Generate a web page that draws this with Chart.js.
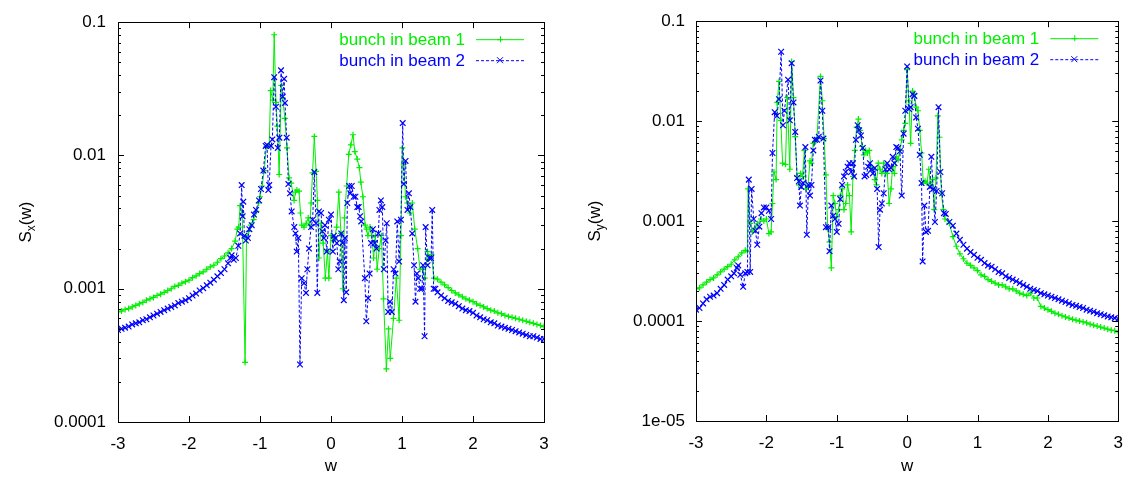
<!DOCTYPE html>
<html>
<head>
<meta charset="utf-8">
<script src="https://cdn.jsdelivr.net/npm/chart.js@4.4.1/dist/chart.umd.min.js"></script>
<style>
  body { margin: 0; background: #fff; overflow: hidden; }
  .panel { position: absolute; top: 0; height: 477px; }
</style>
</head>
<body>
<div class="panel" style="left:0;width:565px"><canvas id="sxChart" width="565" height="477"></canvas></div>
<div class="panel" style="left:565px;width:570px"><canvas id="syChart" width="570" height="477"></canvas></div>
<script>
// series labels and axis ticks
const seriesLabels = ["bunch in beam 1", "bunch in beam 2"];
const wTicks = [-3, -2, -1, 0, 1, 2, 3];
const sxDecades = [0.0001, 0.001, 0.01, 0.1];
const sxTickLabels = ["0.0001", "0.001", "0.01", "0.1"];
const syDecades = [0.00001, 0.0001, 0.001, 0.01, 0.1];
const syTickLabels = ["1e-05", "0.0001", "0.001", "0.01", "0.1"];

// S_x(w), beam 1  [w, S]
const sxBeam1 = [
  [-3.00,0.00067],[-2.95,0.00068],[-2.90,0.00070],[-2.85,0.00071],[-2.80,0.00073],[-2.75,0.00075],[-2.70,0.00077],[-2.65,0.00079],
  [-2.60,0.00082],[-2.55,0.00084],[-2.50,0.00086],[-2.45,0.00089],[-2.40,0.00091],[-2.35,0.00094],[-2.30,0.00097],[-2.25,0.00100],
  [-2.20,0.00104],[-2.15,0.00106],[-2.10,0.00110],[-2.05,0.00113],[-2.00,0.00116],[-1.95,0.00121],[-1.90,0.00125],[-1.85,0.00130],
  [-1.80,0.00134],[-1.75,0.00140],[-1.70,0.00146],[-1.65,0.00150],[-1.60,0.00158],[-1.55,0.00168],[-1.50,0.00176],[-1.45,0.00186],
  [-1.40,0.00200],[-1.35,0.00228],[-1.32,0.0028],[-1.30,0.0029],[-1.28,0.0042],[-1.25,0.0036],[-1.21,0.00028],[-1.19,0.0024],
  [-1.16,0.0027],[-1.13,0.0030],[-1.09,0.0033],[-1.05,0.0038],[-1.02,0.0044],[-1.00,0.0049],[-0.97,0.0059],[-0.94,0.0077],
  [-0.91,0.0117],[-0.87,0.0120],[-0.85,0.0307],[-0.82,0.0260],[-0.80,0.0805],[-0.775,0.0250],[-0.755,0.0166],[-0.73,0.0072],
  [-0.70,0.0335],[-0.68,0.0270],[-0.65,0.0190],[-0.62,0.0114],[-0.59,0.0068],[-0.56,0.0062],[-0.52,0.0046],[-0.50,0.0053],
  [-0.48,0.0055],[-0.45,0.0054],[-0.43,0.0037],[-0.41,0.0030],[-0.38,0.0029],[-0.35,0.0031],[-0.32,0.0034],[-0.30,0.0030],
  [-0.28,0.0044],[-0.26,0.0074],[-0.235,0.0139],[-0.21,0.0076],[-0.19,0.0046],[-0.17,0.0017],[-0.14,0.0031],[-0.11,0.0022],
  [-0.08,0.0012],[-0.05,0.0019],[-0.03,0.0012],[0.00,0.0025],[0.03,0.0023],[0.05,0.0024],[0.08,0.0029],[0.11,0.0053],
  [0.14,0.0026],[0.165,0.0010],[0.19,0.0034],[0.22,0.0059],[0.25,0.0102],[0.28,0.0120],[0.31,0.0143],[0.335,0.0107],
  [0.37,0.0094],[0.40,0.0081],[0.42,0.0063],[0.45,0.0049],[0.48,0.0030],[0.50,0.0028],[0.52,0.0025],[0.55,0.0029],
  [0.575,0.0025],[0.60,0.0017],[0.625,0.0025],[0.65,0.0014],[0.68,0.0020],[0.71,0.0025],[0.74,0.00084],[0.78,0.00025],
  [0.81,0.00050],[0.835,0.00030],[0.88,0.00060],[0.92,0.0012],[0.96,0.00058],[0.985,0.0025],[1.005,0.0114],[1.025,0.0086],
  [1.05,0.0049],[1.075,0.0044],[1.11,0.0037],[1.145,0.0044],[1.18,0.0028],[1.22,0.0020],[1.255,0.0014],[1.29,0.0014],
  [1.32,0.0012],[1.36,0.0019],[1.385,0.0017],[1.415,0.0018],[1.45,0.0012],
  [1.50,0.00118],[1.55,0.00112],[1.60,0.00107],[1.65,0.00102],[1.70,0.00097],[1.75,0.00093],[1.80,0.00090],[1.85,0.00087],
  [1.90,0.00084],[1.95,0.00082],[2.00,0.00080],[2.05,0.00077],[2.10,0.00075],[2.15,0.00073],[2.20,0.00071],[2.25,0.00069],
  [2.30,0.00068],[2.35,0.00066],[2.40,0.00065],[2.45,0.00063],[2.50,0.00062],[2.55,0.00061],[2.60,0.00060],[2.65,0.00059],
  [2.70,0.00058],[2.75,0.00057],[2.80,0.00056],[2.85,0.00055],[2.90,0.00054],[2.95,0.00053],[3.00,0.00052]
];

// S_x(w), beam 2
const sxBeam2 = [
  [-3.00,0.00049],[-2.95,0.00050],[-2.90,0.00051],[-2.85,0.00052],[-2.80,0.00054],[-2.75,0.00055],[-2.70,0.00056],[-2.65,0.00058],
  [-2.60,0.00059],[-2.55,0.00061],[-2.50,0.00063],[-2.45,0.00065],[-2.40,0.00067],[-2.35,0.00069],[-2.30,0.00071],[-2.25,0.00073],
  [-2.20,0.00075],[-2.15,0.00078],[-2.10,0.00080],[-2.05,0.00082],[-2.00,0.00085],[-1.95,0.00089],[-1.90,0.00092],[-1.85,0.00097],
  [-1.80,0.00101],[-1.75,0.00106],[-1.70,0.00111],[-1.65,0.00117],[-1.60,0.00124],[-1.55,0.00131],[-1.50,0.00140],[-1.45,0.00155],
  [-1.42,0.00170],[-1.40,0.00178],[-1.37,0.00165],[-1.34,0.0017],[-1.305,0.0021],[-1.28,0.0026],[-1.258,0.0060],[-1.245,0.0035],
  [-1.235,0.0045],[-1.22,0.0025],[-1.20,0.0023],[-1.17,0.0024],[-1.15,0.0028],[-1.117,0.0030],[-1.085,0.0036],[-1.056,0.0039],
  [-1.014,0.0046],[-0.986,0.0056],[-0.953,0.0077],[-0.92,0.0118],[-0.90,0.0120],[-0.883,0.0055],[-0.87,0.0060],[-0.845,0.0118],
  [-0.826,0.0132],[-0.80,0.0387],[-0.775,0.0232],[-0.75,0.0114],[-0.727,0.0136],[-0.704,0.0435],[-0.68,0.0276],[-0.66,0.0376],
  [-0.648,0.0248],[-0.624,0.0136],[-0.60,0.0061],[-0.577,0.0052],[-0.554,0.0038],[-0.517,0.0029],[-0.50,0.0026],[-0.483,0.0019],
  [-0.46,0.0024],[-0.437,0.00027],[-0.413,0.0012],[-0.38,0.0011],[-0.352,0.00093],[-0.333,0.0014],[-0.31,0.0020],[-0.28,0.0029],
  [-0.258,0.0033],[-0.235,0.0075],[-0.211,0.0031],[-0.193,0.00093],[-0.169,0.0038],[-0.14,0.0037],[-0.122,0.0027],[-0.10,0.0024],
  [-0.085,0.0030],[-0.06,0.0019],[-0.03,0.0033],[0.00,0.0036],[0.026,0.0019],[0.041,0.0025],[0.062,0.0024],[0.082,0.0022],
  [0.103,0.0014],[0.123,0.0016],[0.144,0.0026],[0.164,0.0022],[0.18,0.00082],[0.195,0.0024],[0.215,0.00094],[0.23,0.0044],
  [0.256,0.0059],[0.272,0.0052],[0.292,0.0059],[0.318,0.0049],[0.344,0.0049],[0.37,0.0041],[0.39,0.0041],[0.41,0.0035],
  [0.426,0.0032],[0.477,0.0012],[0.497,0.00057],[0.523,0.00085],[0.544,0.0013],[0.564,0.0022],[0.59,0.0028],[0.615,0.0022],
  [0.641,0.0020],[0.667,0.0026],[0.682,0.0039],[0.703,0.0046],[0.723,0.0041],[0.744,0.0014],[0.77,0.0023],[0.785,0.0031],
  [0.805,0.00067],[0.83,0.0008],[0.856,0.00067],[0.882,0.0014],[0.908,0.0013],[0.933,0.0032],[0.959,0.0016],[0.985,0.0033],
  [1.01,0.0175],[1.026,0.0061],[1.05,0.0091],[1.077,0.0039],[1.097,0.0052],[1.118,0.0041],[1.144,0.0026],[1.17,0.0015],
  [1.19,0.0008],[1.21,0.0013],[1.23,0.0012],[1.256,0.0010],[1.28,0.0010],[1.297,0.0015],[1.318,0.00044],[1.333,0.0029],
  [1.36,0.0015],[1.385,0.0017],[1.41,0.0017],[1.426,0.0039],[1.446,0.0010],
  [1.47,0.00100],[1.50,0.00094],[1.55,0.00089],[1.60,0.00085],[1.65,0.00081],[1.70,0.00079],[1.75,0.00077],[1.80,0.00074],
  [1.85,0.00071],[1.90,0.00069],[1.95,0.00068],[2.00,0.00066],[2.05,0.00063],[2.10,0.00061],[2.15,0.00059],[2.20,0.00058],
  [2.25,0.00056],[2.30,0.00055],[2.35,0.00053],[2.40,0.00052],[2.45,0.00051],[2.50,0.00050],[2.55,0.00049],[2.60,0.00048],
  [2.65,0.00047],[2.70,0.00046],[2.75,0.00045],[2.80,0.00044],[2.85,0.00044],[2.90,0.00043],[2.95,0.00042],[3.00,0.00042]
];

// S_y(w), beam 1
const syBeam1 = [
  [-3.00,0.00021],[-2.95,0.000215],[-2.90,0.00023],[-2.85,0.000245],[-2.80,0.00026],[-2.75,0.00027],[-2.70,0.00029],[-2.65,0.00031],
  [-2.60,0.00033],[-2.55,0.00035],[-2.50,0.00037],[-2.45,0.00041],[-2.40,0.00044],[-2.35,0.00048],[-2.30,0.00051],[-2.27,0.00050],
  [-2.26,0.0021],[-2.23,0.00095],[-2.20,0.00078],[-2.16,0.00085],[-2.128,0.00094],[-2.077,0.00105],[-2.036,0.0010],[-2.00,0.00105],
  [-1.964,0.00075],[-1.933,0.00078],[-1.913,0.0015],[-1.892,0.0031],[-1.862,0.0026],[-1.846,0.0154],[-1.821,0.025],[-1.795,0.0102],
  [-1.77,0.0038],[-1.728,0.0037],[-1.703,0.0172],[-1.667,0.0033],[-1.641,0.0395],[-1.615,0.0172],[-1.59,0.0070],[-1.564,0.0028],
  [-1.538,0.0023],[-1.513,0.0030],[-1.487,0.0028],[-1.46,0.0051],[-1.436,0.0021],[-1.41,0.0022],[-1.38,0.0040],[-1.36,0.0038],
  [-1.333,0.0060],[-1.308,0.0062],[-1.282,0.0067],[-1.231,0.028],[-1.205,0.016],[-1.18,0.0067],[-1.154,0.0029],[-1.128,0.00084],
  [-1.103,0.00062],[-1.077,0.00034],[-1.05,0.0018],[-1.026,0.0015],[-1.00,0.0011],[-0.974,0.0013],[-0.95,0.0018],[-0.923,0.0021],
  [-0.897,0.0013],[-0.872,0.0015],[-0.846,0.0023],[-0.82,0.0018],[-0.795,0.00078],[-0.77,0.0028],[-0.744,0.0051],[-0.718,0.0087],
  [-0.692,0.0105],[-0.667,0.0081],[-0.641,0.0056],[-0.615,0.0046],[-0.59,0.0051],[-0.564,0.0048],[-0.538,0.0051],[-0.513,0.0034],
  [-0.487,0.0033],[-0.46,0.0026],[-0.436,0.0023],[-0.41,0.0038],[-0.385,0.0033],[-0.36,0.0030],[-0.333,0.0038],[-0.308,0.0030],
  [-0.282,0.0030],[-0.256,0.0015],[-0.23,0.0021],[-0.205,0.0035],[-0.18,0.0030],[-0.154,0.0044],[-0.128,0.0041],[-0.103,0.0051],
  [-0.077,0.0065],[-0.05,0.0081],[-0.026,0.0095],[0.00,0.0327],[0.026,0.016],[0.05,0.0060],[0.077,0.020],[0.103,0.0186],
  [0.128,0.0138],[0.154,0.0127],[0.18,0.0081],[0.205,0.0048],[0.23,0.0024],[0.256,0.0025],[0.282,0.0024],[0.308,0.0033],
  [0.333,0.0023],[0.36,0.0026],[0.385,0.0013],[0.41,0.0027],[0.436,0.0113],[0.46,0.0069],[0.487,0.0019],[0.513,0.0013],
  [0.538,0.00105],
  [0.60,0.00095],[0.65,0.00070],[0.70,0.00056],[0.75,0.00047],[0.80,0.00042],[0.85,0.00038],[0.90,0.00036],[0.95,0.00034],
  [1.00,0.00032],[1.05,0.00029],[1.10,0.00028],[1.15,0.00026],[1.20,0.00025],[1.25,0.00024],[1.30,0.00023],[1.35,0.00023],
  [1.40,0.00022],[1.45,0.00021],[1.50,0.00021],[1.55,0.00020],[1.60,0.00019],[1.65,0.000185],[1.70,0.00018],[1.75,0.00019],
  [1.80,0.00017],[1.85,0.00017],[1.90,0.00014],[1.95,0.000135],[2.00,0.00013],[2.05,0.000125],[2.10,0.00012],[2.15,0.000117],
  [2.20,0.000113],[2.25,0.00011],[2.30,0.000107],[2.35,0.000104],[2.40,0.000102],[2.45,0.00010],[2.50,0.000098],[2.55,0.000096],
  [2.60,0.000093],[2.65,0.000091],[2.70,0.000089],[2.75,0.000087],[2.80,0.000085],[2.85,0.000083],[2.90,0.000081],[2.95,0.000080],
  [3.00,0.000078]
];

// S_y(w), beam 2
const syBeam2 = [
  [-3.00,0.00013],[-2.95,0.000135],[-2.90,0.00015],[-2.85,0.000165],[-2.80,0.000175],[-2.75,0.00018],[-2.70,0.00019],[-2.65,0.00021],
  [-2.60,0.00023],[-2.55,0.00026],[-2.50,0.00028],[-2.46,0.00030],[-2.42,0.00034],[-2.40,0.00036],[-2.37,0.00029],[-2.33,0.00022],
  [-2.30,0.00030],[-2.27,0.00031],[-2.25,0.0026],[-2.23,0.00031],[-2.21,0.0021],[-2.18,0.00105],[-2.155,0.00080],[-2.13,0.00058],
  [-2.10,0.00088],[-2.07,0.0012],[-2.036,0.00137],[-2.00,0.00137],[-1.964,0.00127],[-1.933,0.00105],[-1.913,0.0048],[-1.882,0.0123],
  [-1.851,0.0113],[-1.821,0.0166],[-1.79,0.0495],[-1.764,0.0091],[-1.744,0.0127],[-1.692,0.026],[-1.667,0.0102],[-1.641,0.038],
  [-1.615,0.0154],[-1.59,0.0078],[-1.564,0.0027],[-1.538,0.0025],[-1.523,0.00143],[-1.503,0.0022],[-1.477,0.0024],[-1.446,0.0055],
  [-1.426,0.00073],[-1.40,0.0023],[-1.38,0.0018],[-1.36,0.0023],[-1.333,0.0051],[-1.31,0.0065],[-1.28,0.0065],[-1.256,0.0070],
  [-1.231,0.0255],[-1.205,0.0127],[-1.19,0.0067],[-1.154,0.00087],[-1.118,0.00087],[-1.103,0.0005],[-1.077,0.00143],[-1.05,0.00113],
  [-1.026,0.00105],[-1.00,0.00078],[-0.974,0.00094],[-0.95,0.00166],[-0.923,0.0023],[-0.897,0.0028],[-0.872,0.0031],[-0.846,0.0035],
  [-0.82,0.0038],[-0.795,0.0031],[-0.77,0.0038],[-0.754,0.0028],[-0.728,0.0065],[-0.703,0.0091],[-0.682,0.0081],[-0.656,0.0072],
  [-0.63,0.0054],[-0.605,0.0028],[-0.58,0.0029],[-0.554,0.0035],[-0.528,0.0038],[-0.508,0.0033],[-0.487,0.0030],[-0.46,0.0034],
  [-0.426,0.0021],[-0.405,0.00055],[-0.385,0.0013],[-0.36,0.0015],[-0.333,0.0019],[-0.308,0.0033],[-0.282,0.0038],[-0.256,0.0033],
  [-0.23,0.0034],[-0.205,0.0044],[-0.18,0.0038],[-0.154,0.0055],[-0.128,0.0054],[-0.103,0.0050],[-0.077,0.0018],[-0.05,0.0075],
  [-0.026,0.0127],[0.00,0.0353],[0.026,0.0132],[0.05,0.0138],[0.077,0.0186],[0.103,0.0179],[0.128,0.0109],[0.154,0.0084],
  [0.18,0.0046],[0.205,0.0024],[0.22,0.000395],[0.246,0.00143],[0.267,0.00078],[0.297,0.0008],[0.323,0.0022],[0.344,0.0044],
  [0.37,0.0021],[0.395,0.00098],[0.42,0.0020],[0.446,0.0138],[0.472,0.0031],[0.497,0.0019],[0.523,0.0012],[0.549,0.00118],
  [0.60,0.00098],[0.65,0.00090],[0.70,0.00075],[0.75,0.00065],[0.80,0.00058],[0.85,0.00053],[0.90,0.00049],[0.95,0.00046],
  [1.00,0.00043],[1.05,0.00041],[1.10,0.00038],[1.15,0.00036],[1.20,0.00035],[1.25,0.00033],[1.30,0.00031],[1.35,0.00030],
  [1.40,0.00028],[1.45,0.00027],[1.50,0.00026],[1.55,0.00025],[1.60,0.00024],[1.65,0.00023],[1.70,0.00022],[1.75,0.00021],
  [1.80,0.000205],[1.85,0.00020],[1.90,0.00019],[1.95,0.000185],[2.00,0.00018],[2.05,0.000175],[2.10,0.00017],[2.15,0.000165],
  [2.20,0.00016],[2.25,0.000155],[2.30,0.00015],[2.35,0.000145],[2.40,0.000142],[2.45,0.000138],[2.50,0.000135],[2.55,0.00013],
  [2.60,0.000127],[2.65,0.000124],[2.70,0.00012],[2.75,0.000117],[2.80,0.000114],[2.85,0.000111],[2.90,0.000109],[2.95,0.000107],
  [3.00,0.000105]
];

const GREEN = "#00ee00";
const BLUE = "#0000ff";
const FONT = '"Liberation Sans", Arial, Helvetica, sans-serif';

const toPoints = arr => arr.map(([w, s]) => ({ x: w, y: s }));

// box, ticks, axis titles and key, gnuplot style
const framePlugin = {
  id: "frame",
  afterDatasetsDraw(chart, args, opts) {
    const { ctx, chartArea: a, scales: { x, y } } = chart;
    ctx.save();
    ctx.strokeStyle = "#000";
    ctx.lineWidth = 1;
    ctx.beginPath();
    for (const v of wTicks) {
      const px = Math.round(x.getPixelForValue(v)) + 0.5;
      ctx.moveTo(px, a.bottom); ctx.lineTo(px, a.bottom - 6);
      ctx.moveTo(px, a.top); ctx.lineTo(px, a.top + 6);
    }
    const dec = opts.decades;
    dec.forEach((d, i) => {
      const py = Math.round(y.getPixelForValue(d)) + 0.5;
      ctx.moveTo(a.left, py); ctx.lineTo(a.left + 6, py);
      ctx.moveTo(a.right, py); ctx.lineTo(a.right - 6, py);
      if (i < dec.length - 1) {
        for (let m = 2; m <= 9; m++) {
          const pm = Math.round(y.getPixelForValue(d * m)) + 0.5;
          ctx.moveTo(a.left, pm); ctx.lineTo(a.left + 3, pm);
          ctx.moveTo(a.right, pm); ctx.lineTo(a.right - 3, pm);
        }
      }
    });
    ctx.stroke();
    ctx.strokeRect(Math.round(a.left) + 0.5, Math.round(a.top) + 0.5, Math.round(a.width), Math.round(a.height));

    // x title
    ctx.fillStyle = "#000";
    ctx.font = "17px " + FONT;
    ctx.textAlign = "center";
    ctx.textBaseline = "alphabetic";
    ctx.fillText("w", (a.left + a.right) / 2, 471);

    // y title S_sub(w)
    ctx.save();
    ctx.translate(opts.titleX, (a.top + a.bottom) / 2);
    ctx.rotate(-Math.PI / 2);
    ctx.textAlign = "left";
    ctx.font = "17px " + FONT;
    const wS = ctx.measureText("S").width;
    const wR = ctx.measureText("(w)").width;
    ctx.font = "12px " + FONT;
    const wSub = ctx.measureText(opts.sub).width;
    let cx = -(wS + wSub + wR) / 2;
    ctx.font = "17px " + FONT;
    ctx.fillText("S", cx, 0);
    ctx.font = "12px " + FONT;
    ctx.fillText(opts.sub, cx + wS, 4);
    ctx.font = "17px " + FONT;
    ctx.fillText("(w)", cx + wS + wSub, 0);
    ctx.restore();

    // key
    chart.data.datasets.forEach((ds, i) => {
      const ly = a.top + 17 + i * 21;
      ctx.fillStyle = ds.borderColor;
      ctx.font = "17px " + FONT;
      ctx.textAlign = "right";
      ctx.textBaseline = "middle";
      ctx.fillText(ds.label, a.right - 79, ly + 1);
      ctx.strokeStyle = ds.borderColor;
      ctx.lineWidth = 1;
      ctx.setLineDash(ds.borderDash || []);
      ctx.beginPath();
      ctx.moveTo(a.right - 68, ly + 0.5); ctx.lineTo(a.right - 20, ly + 0.5);
      ctx.stroke();
      ctx.setLineDash([]);
      const mx = a.right - 44, r = 3;
      ctx.beginPath();
      if (ds.pointStyle === "cross") {
        ctx.moveTo(mx - r, ly + 0.5); ctx.lineTo(mx + r, ly + 0.5);
        ctx.moveTo(mx + 0.5, ly - r); ctx.lineTo(mx + 0.5, ly + r);
      } else {
        ctx.moveTo(mx - r, ly - r); ctx.lineTo(mx + r, ly + r);
        ctx.moveTo(mx - r, ly + r); ctx.lineTo(mx + r, ly - r);
      }
      ctx.stroke();
    });
    ctx.restore();
  }
};

function makeChart(id, beam1, beam2, decades, tickLabels, sub, box) {
  return new Chart(document.getElementById(id), {
    type: "scatter",
    data: {
      datasets: [
        {
          label: seriesLabels[0],
          data: toPoints(beam1),
          showLine: true,
          borderColor: GREEN,
          borderWidth: 1,
          pointStyle: "cross",
          pointRadius: 3,
          pointBorderWidth: 1.2,
          pointBorderColor: GREEN,
          pointBackgroundColor: GREEN,
          order: 1
        },
        {
          label: seriesLabels[1],
          data: toPoints(beam2),
          showLine: true,
          borderColor: BLUE,
          borderWidth: 1,
          borderDash: [3, 2],
          pointStyle: "crossRot",
          pointRadius: 4,
          pointBorderWidth: 1.2,
          pointBorderColor: BLUE,
          pointBackgroundColor: BLUE,
          order: 0
        }
      ]
    },
    options: {
      responsive: false,
      animation: false,
      events: [],
      layout: { padding: { top: box.top, right: box.right, left: 0, bottom: 0 } },
      plugins: {
        legend: { display: false },
        tooltip: { enabled: false },
        frame: { decades, sub, titleX: box.titleX }
      },
      scales: {
        x: {
          type: "linear",
          min: -3,
          max: 3,
          afterBuildTicks: s => { s.ticks = wTicks.map(v => ({ value: v })); },
          afterFit: s => { s.height = box.xh; },
          ticks: { font: { family: FONT, size: 17 }, color: "#000", padding: 12, maxRotation: 0, autoSkip: false, callback: v => String(v) },
          grid: { display: false, drawTicks: false },
          border: { display: false }
        },
        y: {
          type: "logarithmic",
          min: decades[0],
          max: decades[decades.length - 1],
          afterBuildTicks: s => { s.ticks = decades.map(v => ({ value: v })); },
          afterFit: s => { s.width = box.yw; },
          ticks: { font: { family: FONT, size: 17 }, color: "#000", padding: box.ypad, autoSkip: false, callback: (v, i) => tickLabels[i] },
          grid: { display: false, drawTicks: false },
          border: { display: false }
        }
      }
    },
    plugins: [framePlugin]
  });
}

makeChart("sxChart", sxBeam1, sxBeam2, sxDecades, sxTickLabels, "x",
  { top: 16, right: 21, xh: 55, yw: 118, ypad: 12, titleX: 31 });
makeChart("syChart", syBeam1, syBeam2, syDecades, syTickLabels, "y",
  { top: 17, right: 13, xh: 56, yw: 131, ypad: 11, titleX: 35 });
</script>
</body>
</html>
